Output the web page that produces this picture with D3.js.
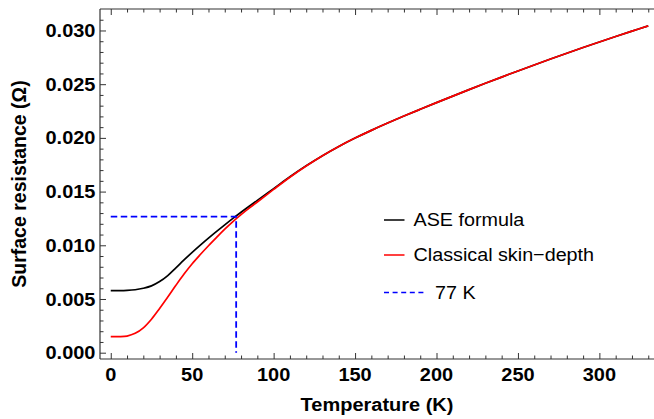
<!DOCTYPE html>
<html><head><meta charset="utf-8">
<script src="https://cdn.jsdelivr.net/npm/d3@7/dist/d3.min.js"></script>
<style>html,body{margin:0;padding:0;background:#fff;} svg{display:block;}</style>
</head><body>
<script>
// Data
const temps = [0,5,10,15,20,25,30,35,40,45,50,55,60,65,70,75,80,85,90,100,110,120,130,140,150,160,170,180,190,200,210,220,230,240,250,260,270,280,290,300,310,320,330];
const aseFormula = [0.00578,0.00578,0.00580,0.00586,0.00600,0.00622,0.00662,0.00718,0.00790,0.00864,0.00934,0.01001,0.01066,0.01129,0.01190,0.01250,0.01308,0.01364,0.01418,0.01528,0.01638,0.01740,0.01834,0.01920,0.01998,0.02070,0.02138,0.02203,0.02266,0.02328,0.02389,0.02449,0.02508,0.02566,0.02623,0.02679,0.02734,0.02788,0.02841,0.02893,0.02944,0.02994,0.03043];
const classicalSkin = [0.00150,0.00150,0.00155,0.00180,0.00232,0.00312,0.00412,0.00518,0.00627,0.00732,0.00828,0.00914,0.00996,0.01074,0.01150,0.01221,0.01286,0.01346,0.01403,0.01520,0.01634,0.01738,0.01834,0.01920,0.01998,0.02070,0.02138,0.02203,0.02266,0.02328,0.02389,0.02449,0.02508,0.02566,0.02623,0.02679,0.02734,0.02788,0.02841,0.02893,0.02944,0.02994,0.03043];
const refTemp = 77;
const refRes = 0.01266;
const xTicks = [0,50,100,150,200,250,300];
const yTicks = [0.000,0.005,0.010,0.015,0.020,0.025,0.030];
const legendLabels = ["ASE formula","Classical skin\u2212depth","77 K"];
const legendColors = ["#000000","#ff0000","#0000ff"];

const W = 654, H = 419;
const pL = 100, pR = 659, pT = 9, pB = 359;
const svg = d3.select("body").append("svg").attr("width", W).attr("height", H);

const x = d3.scaleLinear().domain([-6.6, 336.6]).range([pL, pR]);
const y = d3.scaleLinear().domain([-0.000587, 0.032]).range([pB, pT]);

const stretch = 1.08;
function hText(g, tx, ty, str, anchor, size, weight) {
  return g.append("text")
    .attr("transform", `translate(${tx},${ty}) scale(${stretch},1)`)
    .attr("text-anchor", anchor)
    .attr("font-family", "'Liberation Sans', Arial, Helvetica, sans-serif")
    .attr("font-size", size)
    .attr("font-weight", weight)
    .attr("fill", "#000")
    .text(str);
}

// Curves
const pts = (vals) => temps.map((t, i) => [t, vals[i]]);
const line = d3.line().x(d => x(d[0])).y(d => y(d[1])).curve(d3.curveCatmullRom.alpha(0.5));
svg.append("path").datum(pts(aseFormula)).attr("d", line)
  .attr("fill", "none").attr("stroke", legendColors[0]).attr("stroke-width", 1.7);
svg.append("path").datum(pts(classicalSkin)).attr("d", line)
  .attr("fill", "none").attr("stroke", legendColors[1]).attr("stroke-width", 1.7);

// 77 K reference
const refLine = d3.line().x(d => x(d[0])).y(d => y(d[1]));
svg.append("path").datum([[0, refRes],[refTemp, refRes],[refTemp, 0]]).attr("d", refLine)
  .attr("fill", "none").attr("stroke", legendColors[2]).attr("stroke-width", 1.8)
  .attr("stroke-dasharray", "6.5,3.5");

// Frame
const frameColor = "#333333";
svg.append("line").attr("x1", pL).attr("x2", W).attr("y1", pB).attr("y2", pB).attr("stroke", frameColor).attr("stroke-width", 1.2);
svg.append("line").attr("x1", pL).attr("x2", W).attr("y1", pT).attr("y2", pT).attr("stroke", frameColor).attr("stroke-width", 1.2);
svg.append("line").attr("x1", pL).attr("x2", pL).attr("y1", pT).attr("y2", pB).attr("stroke", frameColor).attr("stroke-width", 1.2);

// Ticks via axes (inward)
const xMinor = d3.range(0, 331, 10).filter(v => v % 50 !== 0);
const yMinor = d3.range(0, 32).map(v => v / 1000).filter((v, i) => i % 5 !== 0);
function tickAxis(axis, tr) {
  const g = svg.append("g").attr("transform", tr).call(axis);
  g.select(".domain").remove();
  g.selectAll("line").attr("stroke", frameColor).attr("stroke-width", 1);
  g.selectAll("text").remove();
  return g;
}
tickAxis(d3.axisBottom(x).tickValues(xTicks).tickSize(-6), `translate(0,${pB})`);
tickAxis(d3.axisBottom(x).tickValues(xMinor).tickSize(-3.5), `translate(0,${pB})`);
tickAxis(d3.axisTop(x).tickValues(xTicks).tickSize(-6), `translate(0,${pT})`);
tickAxis(d3.axisTop(x).tickValues(xMinor).tickSize(-3.5), `translate(0,${pT})`);
tickAxis(d3.axisLeft(y).tickValues(yTicks).tickSize(-6), `translate(${pL},0)`);
tickAxis(d3.axisLeft(y).tickValues(yMinor).tickSize(-3.5), `translate(${pL},0)`);

// Tick labels
const labG = svg.append("g");
xTicks.forEach(v => hText(labG, x(v), 381, d3.format("d")(v), "middle", 18.5, "bold"));
yTicks.forEach(v => hText(labG, 95.5, y(v) + 6.6, d3.format(".3f")(v), "end", 18.5, "bold"));

// Axis titles
hText(svg, (pL + W) / 2, 411, "Temperature (K)", "middle", 18.5, "bold");
svg.append("text")
  .attr("transform", `translate(25.5,${(pT + pB) / 2}) rotate(-90)`)
  .attr("text-anchor", "middle")
  .attr("font-family", "'Liberation Sans', Arial, Helvetica, sans-serif")
  .attr("font-size", 19.5).attr("font-weight", "bold").text("Surface resistance (\u03A9)");

// Legend
const legY = [220, 255, 292.5];
const lg = svg.append("g");
legendLabels.forEach((lab, i) => {
  const isDash = i === 2;
  lg.append("line")
    .attr("x1", 384).attr("x2", isDash ? 426 : 404.5)
    .attr("y1", legY[i]).attr("y2", legY[i])
    .attr("stroke", legendColors[i]).attr("stroke-width", isDash ? 1.4 : 1.5)
    .attr("stroke-dasharray", isDash ? "5,3.6" : null);
  hText(lg, isDash ? 435 : 413.5, legY[i] + 6, lab, "start", 18.3, "normal");
});
</script>
</body></html>
